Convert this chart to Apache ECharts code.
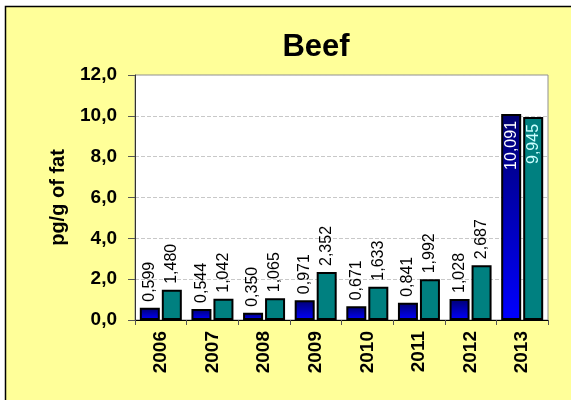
<!DOCTYPE html>
<html>
<head>
<meta charset="utf-8">
<script src="https://cdn.jsdelivr.net/npm/echarts@6/dist/echarts.min.js"></script>
<style>
  html, body { margin: 0; padding: 0; background: #fff; }
  #chart { width: 571px; height: 400px; }
</style>
</head>
<body>
<div id="chart"></div>
<script>
// data
const years = ['2006', '2007', '2008', '2009', '2010', '2011', '2012', '2013']
const blueValues = [0.599, 0.544, 0.350, 0.971, 0.671, 0.841, 1.028, 10.091]
const tealValues = [1.480, 1.042, 1.065, 2.352, 1.633, 1.992, 2.687, 9.945]
const yTicks = [0, 2, 4, 6, 8, 10, 12]

const font = "'Liberation Sans', Arial, sans-serif"
const fmt3 = v => v.toFixed(3).replace('.', ',')

// last year is tall, its labels go inside the bar
function buildData (values, insideColor) {
  return values.map((v, i) => {
    if (i === values.length - 1) {
      return {
        value: v,
        label: { position: 'insideTop', align: 'right', distance: 7, color: insideColor }
      }
    }
    return v
  })
}

const chart = echarts.init(document.getElementById('chart'))
chart.setOption({
  animation: false,
  backgroundColor: '#fff',
  textStyle: { fontFamily: font },
  graphic: [{
    type: 'rect',
    z: -10,
    shape: { x: 5.5, y: 6.5, width: 700, height: 500 },
    style: { fill: '#FFFF99', stroke: '#000', lineWidth: 1.5 }
  }],
  title: {
    text: 'Beef',
    left: 311,
    top: 27,
    textAlign: 'center',
    textStyle: { fontFamily: font, fontSize: 31, fontWeight: 'bold', color: '#000' }
  },
  grid: {
    left: 135,
    top: 75,
    width: 413,
    height: 245,
    show: true,
    backgroundColor: '#fff',
    borderColor: '#909090',
    borderWidth: 1
  },
  xAxis: {
    type: 'category',
    data: years,
    axisLine: { lineStyle: { color: '#000', width: 1 } },
    axisTick: { show: true, length: 5, lineStyle: { color: '#555' } },
    axisLabel: {
      rotate: 90,
      margin: 11,
      fontFamily: font,
      fontSize: 19,
      fontWeight: 'bold',
      color: '#000'
    }
  },
  yAxis: {
    type: 'value',
    min: 0,
    max: 12,
    interval: 2,
    name: 'pg/g of fat',
    nameLocation: 'middle',
    nameRotate: 90,
    nameGap: 67,
    nameTextStyle: { fontFamily: font, fontSize: 20, fontWeight: 'bold', color: '#000' },
    axisLine: { show: true, lineStyle: { color: '#333' } },
    axisTick: { show: true, length: 7, lineStyle: { color: '#555' } },
    axisLabel: {
      margin: 18,
      fontFamily: font,
      fontSize: 19,
      fontWeight: 'bold',
      color: '#000',
      formatter: v => yTicks.includes(v) ? v.toFixed(1).replace('.', ',') : ''
    },
    splitLine: { show: true, lineStyle: { color: '#c8c8c8', type: 'dashed', width: 1 } }
  },
  series: [{
    name: 'Series 1',
    type: 'bar',
    barWidth: 20,
    barGap: '10%',
    data: buildData(blueValues, '#fff'),
    itemStyle: {
      color: new echarts.graphic.LinearGradient(0, 0, 0, 1, [
        { offset: 0, color: '#000070' },
        { offset: 1, color: '#0000ff' }
      ]),
      borderColor: '#000',
      borderWidth: 2
    },
    label: {
      show: true,
      position: 'top',
      rotate: 90,
      align: 'left',
      verticalAlign: 'middle',
      distance: 6,
      fontFamily: font,
      fontSize: 16,
      color: '#000',
      formatter: p => fmt3(p.value)
    }
  }, {
    name: 'Series 2',
    type: 'bar',
    barWidth: 20,
    barGap: '10%',
    data: buildData(tealValues, '#ccffff'),
    itemStyle: {
      color: '#008080',
      borderColor: '#000',
      borderWidth: 2
    },
    label: {
      show: true,
      position: 'top',
      rotate: 90,
      align: 'left',
      verticalAlign: 'middle',
      distance: 6,
      fontFamily: font,
      fontSize: 16,
      color: '#000',
      formatter: p => fmt3(p.value)
    }
  }]
})
</script>
</body>
</html>
